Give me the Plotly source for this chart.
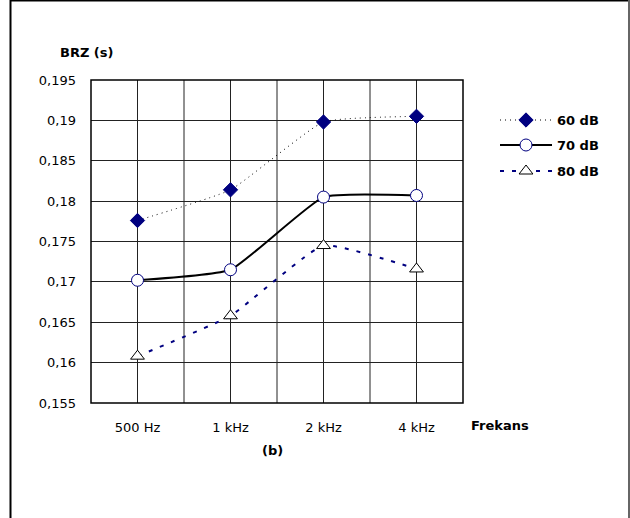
import plotly.graph_objects as go

# Frequency bands and BRZ measurements (seconds) per noise level
bands = ["500 Hz", "1 kHz", "2 kHz", "4 kHz"]
band_pos = [0.5, 1.5, 2.5, 3.5]
brz_60 = [0.1776, 0.1814, 0.1898, 0.1905]
brz_70 = [0.1702, 0.1715, 0.1805, 0.1807]
brz_80 = [0.1608, 0.1658, 0.1745, 0.1716]
series_names = ["60 dB", "70 dB", "80 dB"]
y_ticks = [0.155, 0.16, 0.165, 0.17, 0.175, 0.18, 0.185, 0.19, 0.195]
y_labels = [f"{v:g}".replace(".", ",") for v in y_ticks]

W, H = 630, 518
PL, PR, PT, PB = 91, 463, 80, 403  # plot area in page pixels

def px(x):
    return x / W

def py(y):
    return 1 - y / H

font = "DejaVu Sans, Verdana, sans-serif"
navy = "#000080"

styles = [
    dict(line=dict(color="black", width=1, dash="1px,4px"),
         marker=dict(symbol="diamond", size=11, color=navy, line=dict(color=navy, width=1))),
    dict(line=dict(color="black", width=2),
         marker=dict(symbol="circle", size=12, color="white", line=dict(color=navy, width=1))),
    dict(line=dict(color=navy, width=2, dash="4px,8px"),
         marker=dict(symbol="triangle-up", size=12, color="white", line=dict(color="black", width=1))),
]

fig = go.Figure()
for name, vals, st in zip(series_names, [brz_60, brz_70, brz_80], styles):
    fig.add_trace(go.Scatter(
        x=band_pos, y=vals, name=name, mode="lines+markers",
        line=dict(**st["line"], shape="spline", smoothing=0.4),
        marker=st["marker"], showlegend=False, cliponaxis=False))

# Key drawn on an overlay axis measured in page pixels
key_y = [120, 145, 171]
for name, ky, st in zip(series_names, key_y, styles):
    fig.add_trace(go.Scatter(
        x=[500, 552], y=[ky, ky], mode="lines", line=st["line"],
        xaxis="x2", yaxis="y2", showlegend=False, hoverinfo="skip"))
    fig.add_trace(go.Scatter(
        x=[526], y=[ky], mode="markers", marker=st["marker"],
        xaxis="x2", yaxis="y2", showlegend=False, hoverinfo="skip"))
    fig.add_annotation(text=name, x=555, y=ky, xref="x2", yref="y2",
                       xanchor="left", yanchor="middle", showarrow=False,
                       font=dict(family=font, size=13, color="black", weight="bold"))

fig.update_layout(
    width=W, height=H,
    margin=dict(l=0, r=0, t=0, b=0, pad=0, autoexpand=False),
    paper_bgcolor="white", plot_bgcolor="rgba(0,0,0,0)",
    font=dict(family=font, size=13, color="black"),
    showlegend=False,
    xaxis=dict(
        domain=[px(PL), px(PR)], range=[0, 4],
        tickvals=band_pos, ticktext=bands, ticks="",
        showgrid=False, zeroline=False, showline=False,
        ticklabelstandoff=15, fixedrange=True, automargin=False),
    yaxis=dict(
        domain=[py(PB), py(PT)], range=[0.155, 0.195],
        tickvals=y_ticks, ticktext=y_labels, ticks="",
        showgrid=True, gridcolor="#222", gridwidth=1,
        zeroline=False, showline=False,
        ticklabelstandoff=14, fixedrange=True, automargin=False),
    xaxis2=dict(domain=[px(480), px(620)], range=[480, 620], visible=False,
                fixedrange=True, anchor="y2"),
    yaxis2=dict(domain=[py(200), py(100)], range=[200, 100], visible=False,
                fixedrange=True, anchor="x2"),
)

# Vertical grid every half band
for k in range(1, 8):
    fig.add_shape(type="line", xref="x", yref="paper", x0=k * 0.5, x1=k * 0.5,
                  y0=py(PB), y1=py(PT), line=dict(color="#222", width=1), layer="below")

# Plot border
fig.add_shape(type="rect", xref="paper", yref="paper",
              x0=px(PL), x1=px(PR), y0=py(PB), y1=py(PT),
              line=dict(color="black", width=1.5))

# Outer frame
fig.add_shape(type="line", xref="paper", yref="paper", x0=px(10.5), x1=px(10.5),
              y0=0, y1=1, line=dict(color="black", width=2))
fig.add_shape(type="line", xref="paper", yref="paper", x0=px(10), x1=px(629),
              y0=py(0.5), y1=py(0.5), line=dict(color="black", width=2))
fig.add_shape(type="line", xref="paper", yref="paper", x0=px(629), x1=px(629),
              y0=0, y1=1, line=dict(color="#666", width=2))

bold = dict(family=font, size=13, color="black", weight="bold")
for text, x, y in [("BRZ (s)", 87, 52), ("Frekans", 500, 425), ("(b)", 272, 450)]:
    fig.add_annotation(text=text, x=px(x), y=py(y), xref="paper", yref="paper",
                       xanchor="center", yanchor="middle", showarrow=False, font=bold)

fig.write_html("out.html")
